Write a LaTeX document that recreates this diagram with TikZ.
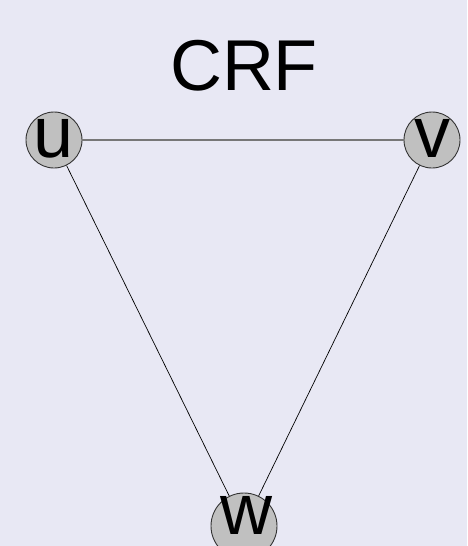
\documentclass[tikz,border=0pt]{standalone}
\usepackage{fontspec}
\setmainfont{Liberation Sans}
\definecolor{bgc}{HTML}{E8E8F4}
\definecolor{nodefill}{HTML}{C0C0C0}
\definecolor{nodeline}{HTML}{333333}
\definecolor{edgegray}{HTML}{777777}
\begin{document}
\begin{tikzpicture}[x=1pt,y=-1pt,
  vert/.style={circle,draw=nodeline,fill=nodefill,line width=0.9pt,minimum size=56pt,inner sep=0pt},
  vertw/.style={vert,minimum size=66pt},
  lbl/.style={anchor=base,inner sep=0pt,font=\fontsize{72}{80}\selectfont},
  edge/.style={line width=0.7pt,black},
  topedge/.style={line width=1.2pt,edgegray}]
\fill[bgc] (0,0) rectangle (467,546);
\useasboundingbox (0,0) rectangle (467,546);
\node[lbl] (title) at (244,90) {CRF};
\node[vert] (u) at (54,140) {};
\node[vert] (v) at (432,140) {};
\node[vertw] (w) at (244,526) {};
\draw[topedge] (u) -- (v);
\draw[edge] (u) -- (w);
\draw[edge] (v) -- (w);
\node[lbl] (ut) at (54,157) {u};
\node[lbl] (vt) at (432,157) {v};
\node[lbl] (wt) at (246,534) {w};
\end{tikzpicture}
\end{document}
